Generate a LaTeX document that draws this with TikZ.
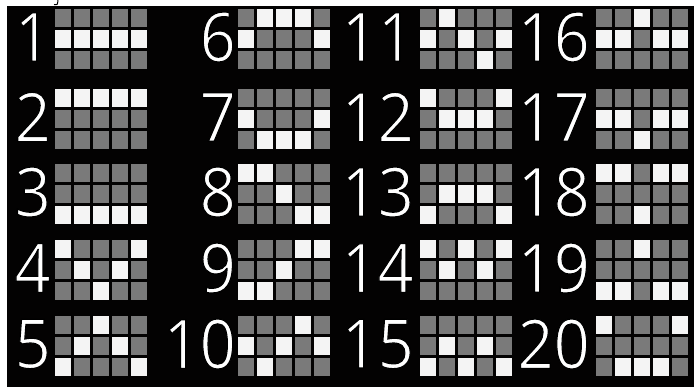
\documentclass[tikz,border=0pt]{standalone}
\usepackage{fontspec}
\setmainfont[FakeStretch=0.93]{Open Sans}
\definecolor{bg}{HTML}{030202}
\definecolor{cellgray}{HTML}{7A7A7A}
\definecolor{cellwhite}{HTML}{F4F4F4}
\newcommand{\thindigits}[1]{\special{pdf:literal direct 0 0 0 RG 2 Tr 1.1 w}#1\special{pdf:literal direct 0 Tr}}
\tikzset{
  cell/.style={inner sep=0pt, outer sep=0pt, minimum width=16.4pt, minimum height=18.4pt, draw=none},
  numlabel/.style={text=white, inner sep=0pt, anchor=east, font=\fontsize{68}{68}\selectfont}
}
\begin{document}
\begin{tikzpicture}[x=1pt,y=-1pt]
  \fill[white] (0,0) rectangle (694,387);
  \fill[bg] (7,6) rectangle (694,387);
  \useasboundingbox (0,0) rectangle (694,387);
  \draw[black, line width=1pt] (54,4.5) .. controls (57.5,5) .. (58,0);
  \foreach \n/\gx/\gy/\lx/\a/\b/\c/\d/\e in {
     1/55/9/51/1/1/1/1/1,
     2/55/89/51/0/0/0/0/0,
     3/55/164/51/2/2/2/2/2,
     4/55/240/51/0/1/2/1/0,
     5/55/316/51/2/1/0/1/2,
     6/238/9/236/1/0/0/0/1,
     7/238/89/236/1/2/2/2/1,
     8/238/164/236/0/0/1/2/2,
     9/238/240/236/2/2/1/0/0,
     10/238/316/236/1/2/1/0/1,
     11/420/9/414/1/0/1/2/1,
     12/420/89/414/0/1/1/1/0,
     13/420/164/414/2/1/1/1/2,
     14/420/240/414/0/1/0/1/0,
     15/420/316/414/2/1/2/1/2,
     16/596/9/590/1/1/0/1/1,
     17/596/89/590/1/1/2/1/1,
     18/596/164/590/0/0/2/0/0,
     19/596/240/590/2/2/0/2/2,
     20/596/316/590/0/2/2/2/0} {
    \node[numlabel] (n\n) at (\lx,\gy+28) {\thindigits{\n}};
    \foreach \k/\p in {0/\a,1/\b,2/\c,3/\d,4/\e} {
      \foreach \r in {0,1,2} {
        \ifnum\r=\p\relax\def\cs{cellwhite}\else\def\cs{cellgray}\fi
        \node[cell, fill=\cs] (c\n-\k-\r) at (\gx+8.2+18.9*\k, \gy+9.2+20.9*\r) {};
      }
    }
  }
\end{tikzpicture}
\end{document}
